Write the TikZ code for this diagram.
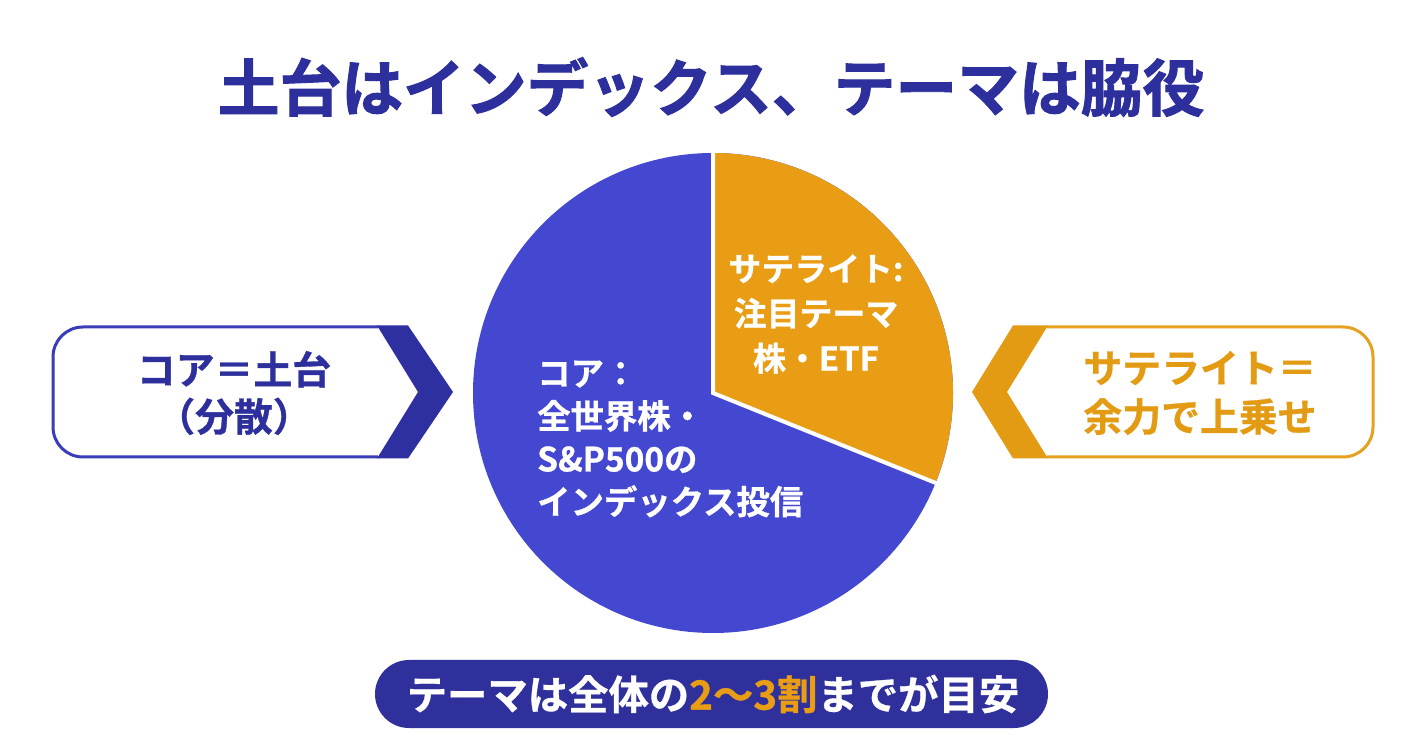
\documentclass[tikz,border=0pt]{standalone}
\usepackage{fontspec}
\usetikzlibrary{calc}
\setmainfont{Noto Sans CJK JP}[BoldFont={Noto Sans CJK JP Bold}]
\newfontfamily\heavyjp{Noto Sans CJK JP Bold}[FakeBold=1.6]
\newfontfamily\semiheavyjp{Noto Sans CJK JP Bold}[FakeBold=0.8]
\definecolor{navy}{HTML}{2C2F9C}
\definecolor{pieblue}{HTML}{4447D0}
\definecolor{pieorange}{HTML}{E99D14}
\definecolor{boxblue}{HTML}{3A3DB6}
\definecolor{chevblue}{HTML}{2E30A2}
\definecolor{boxorange}{HTML}{E6A120}
\definecolor{chevorange}{HTML}{E39B14}
\definecolor{pillblue}{HTML}{2F309C}
\tikzset{
  jp/.style={inner sep=0pt, font=\bfseries},
  outlinebox/.style={line width=3bp, rounded corners=30bp},
}
\begin{document}
\begin{tikzpicture}[x=1bp,y=1bp]
\useasboundingbox[fill=white] (0,0) rectangle (1424,752);
% title
\node[jp, text=navy, font=\heavyjp\fontsize{62}{68}\selectfont] (title) at (711,665) {土台はインデックス、テーマは脇役};
% pie
\coordinate (c) at (713,359);
\fill[pieblue] (c) circle[radius=240];
\fill[pieorange] (c) -- ++(90:240) arc[start angle=90, end angle=-22, radius=240] -- cycle;
\draw[white, line width=4bp] ($(c)+(90:242)$) -- (c) -- ($(c)+(-22:242)$);
\node[jp, text=white, anchor=west, align=left, font=\semiheavyjp\fontsize{33.5}{43}\selectfont] (core) at (537,313) {コア：\\全世界株・\\S\&P500の\\インデックス投信};
\node[jp, text=white, align=center, font=\semiheavyjp\fontsize{33}{45}\selectfont] (sat) at (816,438) {サテライト:\\注目テーマ\\株・ETF};
% left box
\draw[boxblue, outlinebox] (378,425) -- (53,425) -- (53,295) -- (378,295);
\fill[chevblue] (377,426.5) -- (408,426.5) -- (453,360) -- (408,293.5) -- (377,293.5) -- (418,360) -- cycle;
\node[jp, text=navy, align=center, font=\semiheavyjp\fontsize{39}{47}\selectfont] (left) at (234,359) {コア＝土台\\（分散）};
% right box
\draw[boxorange, outlinebox] (1047,425) -- (1373,425) -- (1373,295) -- (1047,295);
\fill[chevorange] (1048,426.5) -- (1013,426.5) -- (972,360) -- (1013,293.5) -- (1048,293.5) -- (1007,360) -- cycle;
\node[jp, text=chevorange, align=center, font=\semiheavyjp\fontsize{39}{49}\selectfont] (right) at (1200,359) {サテライト＝\\余力で上乗せ};
% bottom pill
\fill[pillblue, rounded corners=34bp] (375,24) rectangle (1048,92);
\node[jp, text=white, font=\semiheavyjp\fontsize{40.5}{46}\selectfont] (note) at (713,58) {テーマは全体の\textcolor{pieorange}{2〜3割}までが目安};
\end{tikzpicture}
\end{document}
